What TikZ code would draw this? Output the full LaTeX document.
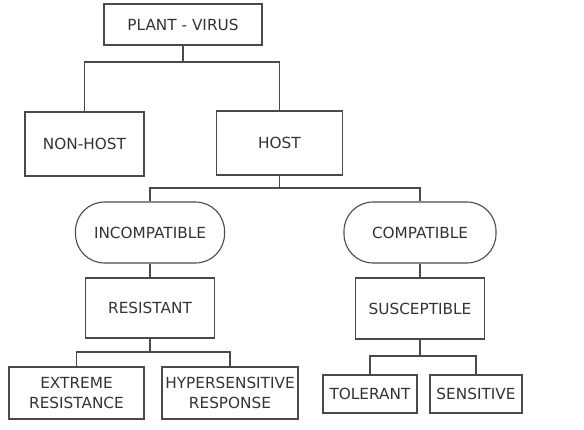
\documentclass[tikz,border=0pt]{standalone}
\usepackage{fontspec}
\setmainfont{DejaVu Sans}
\begin{document}
\begin{tikzpicture}[x=1pt,y=-1pt,
  box/.style={draw=linegray,line width=1.1pt,inner sep=0pt,align=center,
    text=textgray,font=\fontsize{15.3}{20}\selectfont},
  pill/.style={box,rounded corners=29pt},
  link/.style={draw=linegray,line width=1.1pt}]
\definecolor{linegray}{HTML}{4A4A4A}
\definecolor{textgray}{HTML}{333333}
\useasboundingbox (0,0) rectangle (584,429);

% top level
\node[box,minimum width=158pt,minimum height=41pt] (plant) at (183,24.5) {PLANT - VIRUS};
\node[box,minimum width=119pt,minimum height=64pt] (nonhost) at (84.5,144) {NON-HOST};
\node[box,minimum width=126pt,minimum height=64pt] (host) at (279.5,143) {HOST};

% compatibility
\node[pill,minimum width=149pt,minimum height=61pt] (incomp) at (150,232.5) {INCOMPATIBLE};
\node[pill,minimum width=152pt,minimum height=61pt] (comp) at (420,232.5) {COMPATIBLE};

\node[box,minimum width=129pt,minimum height=60pt] (resist) at (150,308) {RESISTANT};
\node[box,minimum width=129pt,minimum height=61pt] (suscept) at (420,308.5) {SUSCEPTIBLE};

% leaves
\node[box,minimum width=135pt,minimum height=52pt] (extreme) at (76.5,393) {EXTREME\\RESISTANCE};
\node[box,minimum width=136pt,minimum height=52pt] (hyper) at (230,393) {HYPERSENSITIVE\\RESPONSE};
\node[box,minimum width=94pt,minimum height=38pt] (tolerant) at (370,394) {TOLERANT};
\node[box,minimum width=92pt,minimum height=38pt] (sensitive) at (476,394) {SENSITIVE};

% branch points
\coordinate (b1) at (183,62);
\coordinate (b2) at (279.5,188);
\coordinate (b3) at (150,352);
\coordinate (b4) at (420,356);

\draw[link] (plant.south) -- (b1);
\draw[link] (nonhost.north) |- (b1) -| (host.north);
\draw[link] (host.south) -- (b2);
\draw[link] (incomp.north) |- (b2) -| (comp.north);
\draw[link] (incomp.south) -- (resist.north);
\draw[link] (comp.south) -- (suscept.north);
\draw[link] (resist.south) -- (b3);
\draw[link] (extreme.north) |- (b3) -| (hyper.north);
\draw[link] (suscept.south) -- (b4);
\draw[link] (tolerant.north) |- (b4) -| (sensitive.north);
\end{tikzpicture}
\end{document}
